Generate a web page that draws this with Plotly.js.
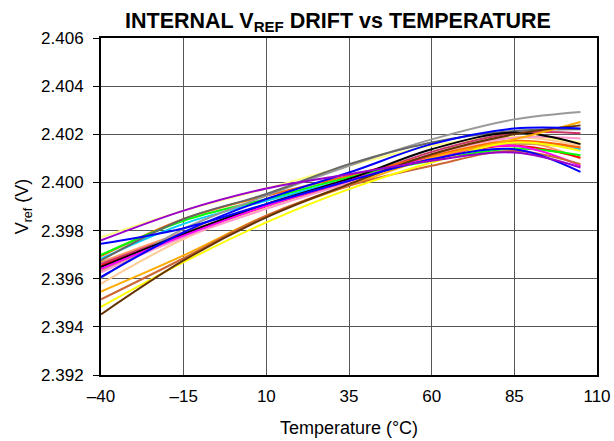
<!DOCTYPE html>
<html>
<head>
<meta charset="utf-8">
<script src="https://cdn.plot.ly/plotly-3.0.1.min.js"></script>
<style>html,body{margin:0;padding:0;background:#fff;}#chart{width:614px;height:441px;}</style>
</head>
<body>
<div id="chart"></div>
<script>
const temperature = [-40, -15, 10, 35, 60, 85, 105];

const xTickVals = [-40, -15, 10, 35, 60, 85, 110];
const xTickText = ["\u201340", "\u201315", "10", "35", "60", "85", "110"];

const seriesNames = [
  "unit01","unit02","unit03","unit04","unit05","unit06","unit07","unit08","unit09","unit10",
  "unit11","unit12","unit13","unit14","unit15","unit16","unit17","unit18","unit19","unit20","unit21"
];
const seriesColors = [
  "#FFFF80","#00CCFF","#FF9966","#CC9966","#FFCC99","#FF99CC","#FF0000","#CC3366","#FF6600","#00FF00",
  "#999999","#666666","#000000","#FF00FF","#FFAA00","#CC6633","#FFFF00","#663300","#0000FF","#0000FF","#9900CC"
];
const vref01 = [2.39772, 2.39883, 2.39975, 2.40069, 2.40152, 2.40190, 2.40166];
const vref02 = [2.39683, 2.39828, 2.39924, 2.40014, 2.40103, 2.40166, 2.40138];
const vref03 = [2.39669, 2.39793, 2.39903, 2.40007, 2.40103, 2.40173, 2.40099];
const vref04 = [2.39634, 2.39779, 2.39897, 2.40003, 2.40110, 2.40159, 2.40145];
const vref05 = [2.39579, 2.39765, 2.39897, 2.40000, 2.40110, 2.40186, 2.40152];
const vref06 = [2.39627, 2.39772, 2.39890, 2.40000, 2.40117, 2.40186, 2.40182];
const vref07 = [2.39655, 2.39786, 2.39903, 2.40014, 2.40103, 2.40152, 2.40103];
const vref08 = [2.39662, 2.39786, 2.39903, 2.40007, 2.40127, 2.40204, 2.40204];
const vref09 = [2.39694, 2.39848, 2.39945, 2.40028, 2.40110, 2.40173, 2.40145];
const vref10 = [2.39699, 2.39841, 2.39931, 2.40021, 2.40090, 2.40141, 2.40113];
const vref11 = [2.39603, 2.39807, 2.39945, 2.40069, 2.40179, 2.40262, 2.40293];
const vref12 = [2.39676, 2.39848, 2.39952, 2.40076, 2.40166, 2.40214, 2.40221];
const vref13 = [2.39648, 2.39786, 2.39910, 2.40014, 2.40138, 2.40207, 2.40159];
const vref14 = [2.39641, 2.39779, 2.39903, 2.40007, 2.40103, 2.40152, 2.40069];
const vref15 = [2.39547, 2.39697, 2.39862, 2.39986, 2.40103, 2.40179, 2.40251];
const vref16 = [2.39514, 2.39685, 2.39862, 2.39986, 2.40069, 2.40131, 2.40076];
const vref17 = [2.39483, 2.39669, 2.39834, 2.39972, 2.40083, 2.40166, 2.40131];
const vref18 = [2.39452, 2.39676, 2.39855, 2.39993, 2.40117, 2.40200, 2.40237];
const vref19 = [2.39607, 2.39793, 2.39931, 2.40041, 2.40159, 2.40224, 2.40224];
const vref20 = [2.39745, 2.39810, 2.39910, 2.40007, 2.40096, 2.40138, 2.40044];
const vref21 = [2.39759, 2.39883, 2.39975, 2.40034, 2.40090, 2.40124, 2.40062];

const allSeries = [vref01,vref02,vref03,vref04,vref05,vref06,vref07,vref08,vref09,vref10,
  vref11,vref12,vref13,vref14,vref15,vref16,vref17,vref18,vref19,vref20,vref21];

const traces = allSeries.map((vals, i) => ({
  x: temperature,
  y: vals,
  name: seriesNames[i],
  type: "scatter",
  mode: "lines",
  line: {color: seriesColors[i], width: 2, shape: "spline", smoothing: 1},
  showlegend: false,
  hoverinfo: "x+y"
}));

const font = "Arial, 'Liberation Sans', sans-serif";

const layout = {
  width: 614,
  height: 441,
  margin: {l: 101, r: 17, t: 38, b: 66, pad: 0},
  paper_bgcolor: "#ffffff",
  plot_bgcolor: "#ffffff",
  showlegend: false,
  font: {family: font, size: 17, color: "#000"},
  title: {
    text: "<b>INTERNAL V<sub>REF</sub> DRIFT vs TEMPERATURE</b>",
    font: {family: font, size: 21.5, color: "#000"},
    x: 338 / 614, xref: "container", xanchor: "center",
    y: 1 - 20 / 441, yref: "container", yanchor: "middle"
  },
  xaxis: {
    range: [-40, 110],
    tickvals: xTickVals,
    ticktext: xTickText,
    showgrid: true,
    gridcolor: "#555555",
    gridwidth: 1,
    zeroline: false,
    showline: true,
    linecolor: "#000",
    linewidth: 2,
    mirror: true,
    ticks: "",
    ticklabelstandoff: 5,
    tickfont: {family: font, size: 17, color: "#000"},
    title: {text: "Temperature (\u00B0C)", font: {family: font, size: 18, color: "#000"}, standoff: 16}
  },
  yaxis: {
    range: [2.392, 2.406],
    dtick: 0.002,
    tick0: 2.392,
    tickformat: ".3f",
    showgrid: true,
    gridcolor: "#555555",
    gridwidth: 1,
    zeroline: false,
    showline: true,
    linecolor: "#000",
    linewidth: 2,
    mirror: true,
    ticks: "outside",
    ticklen: 6,
    tickwidth: 1,
    tickcolor: "#000",
    ticklabelstandoff: 6,
    tickfont: {family: font, size: 17, color: "#000"},
    title: {text: "V<sub>ref</sub> (V)", font: {family: font, size: 18, color: "#000"}, standoff: 8}
  }
};

Plotly.newPlot("chart", traces, layout, {displayModeBar: false, staticPlot: true});
</script>
</body>
</html>
